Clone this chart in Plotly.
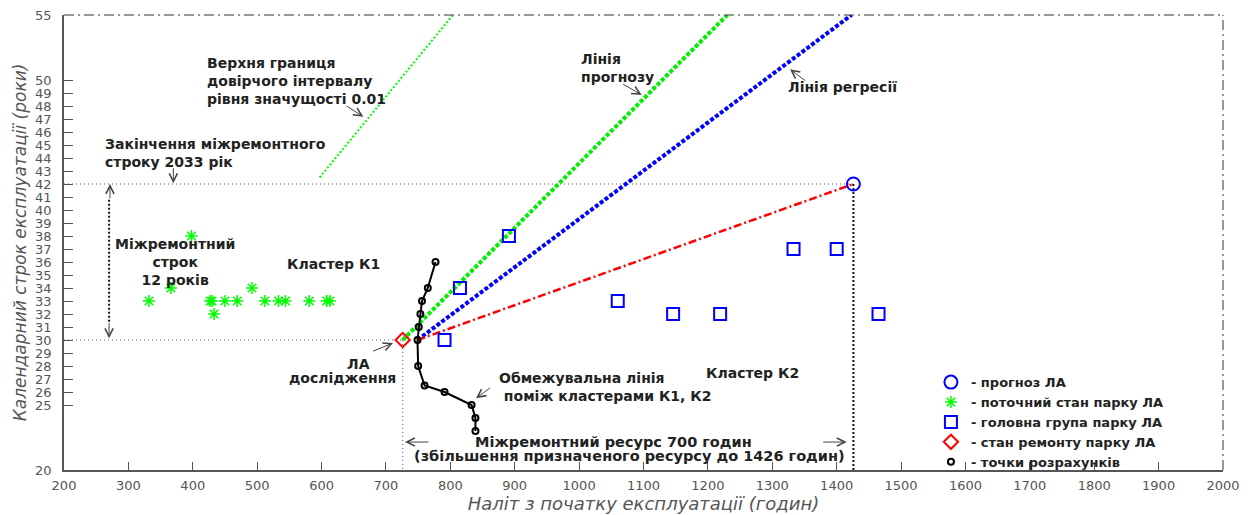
import plotly.graph_objects as go

# ---------------- data ----------------
fleet_x = [332, 366, 398, 427, 430, 433, 450, 469, 492, 512, 533, 544, 581, 608, 613]
fleet_y = [33, 34, 38, 33, 33, 32, 33, 33, 34, 33, 33, 33, 33, 33, 33]

main_x = [791, 815, 891, 1060, 1146, 1219, 1333, 1400, 1465]
main_y = [30, 34, 38, 33, 32, 32, 37, 37, 32]

forecast_x = [1426]
forecast_y = [42]

repair_x = [726]
repair_y = [30]

calc_x = [777, 765, 756, 753.5, 751, 749, 750, 760, 791, 833, 839, 839]
calc_y = [36, 34, 33, 32, 31, 30, 28, 26.5, 26, 25, 24, 23]

forecast_line_x = [726, 1230]
forecast_line_y = [30, 55]

regression_line_x = [749, 1423]
regression_line_y = [30, 55]

upper_bound_x = [597, 804]
upper_bound_y = [42.5, 55]

link_x = [749, 1426]
link_y = [30, 42]

x_ticks = list(range(200, 2001, 100))
y_ticks = [20] + list(range(25, 51)) + [55]
x_min, x_max = 200, 2000
y_min, y_max = 20, 55
interval_x = 270

# ---------------- styles ----------------
TXT = dict(family="DejaVu Sans", size=14, color="#222222", weight="bold")
AX = "#555555"
ARROW = "#444444"

fig = go.Figure()

# reference dotted lines
fig.add_trace(go.Scatter(x=[x_min, forecast_x[0]], y=[forecast_y[0]] * 2, mode="lines",
                         line=dict(color="#555555", width=1, dash="1px,3px"), showlegend=False, hoverinfo="skip"))
fig.add_trace(go.Scatter(x=[x_min, repair_x[0]], y=[repair_y[0]] * 2, mode="lines",
                         line=dict(color="#555555", width=1, dash="1px,3px"), showlegend=False, hoverinfo="skip"))
fig.add_trace(go.Scatter(x=[repair_x[0]] * 2, y=[repair_y[0], y_min], mode="lines",
                         line=dict(color="#555555", width=1, dash="1px,3px"), showlegend=False, hoverinfo="skip"))
fig.add_trace(go.Scatter(x=[forecast_x[0]] * 2, y=[forecast_y[0], y_min], mode="lines",
                         line=dict(color="#111111", width=2, dash="2px,2px"), showlegend=False, hoverinfo="skip"))
fig.add_trace(go.Scatter(x=[interval_x] * 2, y=[repair_y[0] + 1.4, forecast_y[0] - 1.2], mode="lines",
                         line=dict(color="#111111", width=2, dash="2px,2px"), showlegend=False, hoverinfo="skip"))

# trend lines
fig.add_trace(go.Scatter(x=upper_bound_x, y=upper_bound_y, mode="lines",
                         line=dict(color="#00ff00", width=2, dash="2px,2px"), showlegend=False, hoverinfo="skip"))
fig.add_trace(go.Scatter(x=forecast_line_x, y=forecast_line_y, mode="lines",
                         line=dict(color="#00ee00", width=4, dash="4px,2px"), showlegend=False, hoverinfo="skip"))
fig.add_trace(go.Scatter(x=regression_line_x, y=regression_line_y, mode="lines",
                         line=dict(color="#0000ff", width=4, dash="4px,2px"), showlegend=False, hoverinfo="skip"))
fig.add_trace(go.Scatter(x=link_x, y=link_y, mode="lines",
                         line=dict(color="#ff0000", width=2.5, dash="8px,3px,2px,3px"), showlegend=False, hoverinfo="skip"))

# boundary line between clusters
fig.add_trace(go.Scatter(x=calc_x, y=calc_y, mode="lines",
                         line=dict(color="#000000", width=2), showlegend=False, hoverinfo="skip"))

# markers (legend order)
fig.add_trace(go.Scatter(x=forecast_x, y=forecast_y, mode="markers", name="- прогноз ЛА",
                         marker=dict(symbol="circle-open", size=13, color="#0000ff", line=dict(width=2, color="#0000ff"))))
fig.add_trace(go.Scatter(x=fleet_x, y=fleet_y, mode="markers", name="- поточний стан парку ЛА",
                         marker=dict(symbol="asterisk-open", size=10, color="#00ff00", line=dict(width=1.5, color="#00ff00"))))
fig.add_trace(go.Scatter(x=main_x, y=main_y, mode="markers", name="- головна група парку ЛА",
                         marker=dict(symbol="square-open", size=12, color="#0000ff", line=dict(width=2, color="#0000ff"))))
fig.add_trace(go.Scatter(x=repair_x, y=repair_y, mode="markers", name="- стан ремонту парку ЛА",
                         marker=dict(symbol="diamond-open", size=11, color="#ff0000", line=dict(width=2, color="#ff0000"))))
fig.add_trace(go.Scatter(x=calc_x, y=calc_y, mode="markers", name="- точки розрахунків",
                         marker=dict(symbol="circle-open", size=6, color="#000000", line=dict(width=2, color="#000000"))))

# ---------------- text annotations ----------------
def txt(x, y, s, xanchor="center", align="center", size=14):
    f = dict(TXT)
    f["size"] = size
    fig.add_annotation(x=x, y=y, text=s, showarrow=False, xanchor=xanchor, yanchor="middle",
                       align=align, font=f)

txt(419, 49.92, "Верхня границя<br>довірчого інтервалу<br>рівня значущості 0.01", xanchor="left", align="left")
txt(260.6, 44.42, "Закінчення міжремонтного<br>строку 2033 рік", xanchor="left", align="left")
txt(373, 36.0, "Міжремонтний<br>строк<br>12 років")
txt(619, 35.85, "Кластер К1")
txt(658, 28.15, "ЛА")
txt(632, 27.08, "дослідження")
txt(1000.3, 50.93, "Лінія<br>прогнозу", xanchor="left", align="left")
txt(1320.8, 49.48, "Лінія регресії", xanchor="left", align="left")
txt(872, 26.38, "Обмежувальна лінія<br> поміж кластерами К1, К2", xanchor="left", align="left")
txt(1270, 27.44, "Кластер К2")
txt(1054, 22.13, "Міжремонтний ресурс 700 годин", size=14.5)
txt(1077.5, 21.05, "(збільшення призначеного ресурсу до 1426 годин)", size=14.5)

# ---------------- arrows ----------------
def arrow(tx, ty, hx, hy):
    fig.add_annotation(x=hx, y=hy, ax=tx, ay=ty, axref="x", ayref="y", xref="x", yref="y",
                       text="", showarrow=True, arrowhead=5, arrowsize=1.6, arrowwidth=1,
                       arrowcolor=ARROW)

arrow(636.4, 48.08, 664.8, 47.18)
arrow(1066.1, 49.75, 1097.2, 48.85)
arrow(1353.4, 49.87, 1327.5, 50.82)
arrow(677.9, 29.1, 711.0, 29.77)
arrow(864.2, 26.41, 839.9, 25.52)
arrow(369.8, 43.33, 369.8, 42.05)
arrow(271.4, 40.77, 271.4, 42.0)
arrow(270.0, 31.41, 270.0, 30.13)
arrow(768.4, 22.15, 729.6, 22.15)
arrow(1376.8, 22.15, 1415.6, 22.15)

# ---------------- frame (dash-dot top & right) ----------------
fig.add_shape(type="line", xref="paper", yref="paper", x0=0, x1=1, y0=1, y1=1,
              line=dict(color="#333333", width=1, dash="10px,4px,2px,4px"))
fig.add_shape(type="line", xref="paper", yref="paper", x0=1, x1=1, y0=0, y1=1,
              line=dict(color="#333333", width=1, dash="10px,4px,2px,4px"))

# the page body adds an 8px margin, so the figure is sized/offset to compensate
fig.update_layout(
    width=1244, height=507,
    margin=dict(l=56, r=29, t=7, b=45),
    paper_bgcolor="white", plot_bgcolor="white",
    showlegend=True,
    legend=dict(x=0.748, y=0.226, xanchor="left", yanchor="top",
                bgcolor="rgba(0,0,0,0)", borderwidth=0,
                font=dict(family="DejaVu Sans", size=13, color="#222222", weight="bold"),
                itemsizing="trace"),
    xaxis=dict(range=[x_min, x_max], tickvals=x_ticks, ticks="inside", ticklen=8, tickcolor=AX,
               showline=True, linecolor=AX, linewidth=1.5, showgrid=False, zeroline=False,
               automargin=False, ticklabelstandoff=3, ticklabeloverflow="allow",
               tickfont=dict(family="DejaVu Sans", size=13, color=AX),
               title=dict(text="Наліт з початку експлуатації (годин)", standoff=2,
                          font=dict(family="DejaVu Sans", size=18, color=AX, style="italic"))),
    yaxis=dict(range=[y_min, y_max], tickvals=y_ticks, ticks="inside", ticklen=9, tickcolor=AX,
               showline=True, linecolor=AX, linewidth=1.5, showgrid=False, zeroline=False,
               automargin=False, ticklabelstandoff=8, ticklabeloverflow="allow",
               tickfont=dict(family="DejaVu Sans", size=13, color=AX),
               title=dict(text="Календарний строк експлуатації (роки)", standoff=4,
                          font=dict(family="DejaVu Sans", size=17, color=AX, style="italic"))),
)

fig.write_html("out.html")
